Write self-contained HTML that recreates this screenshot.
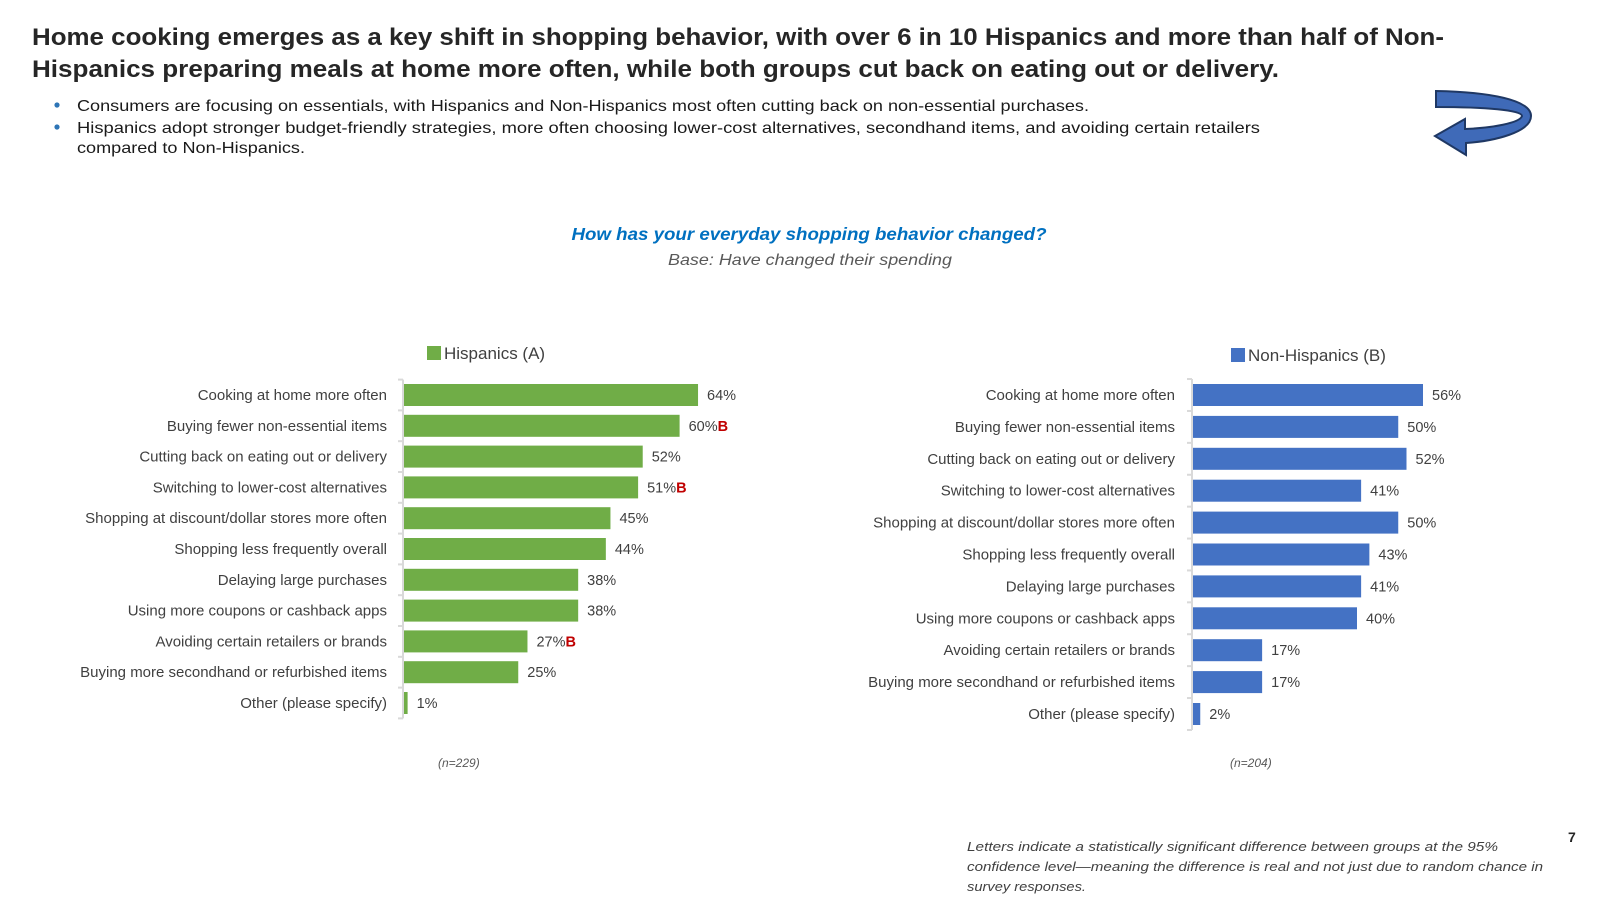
<!DOCTYPE html>
<html><head><meta charset="utf-8"><style>
html,body{margin:0;padding:0;background:#fff;}
svg{display:block;font-family:"Liberation Sans",sans-serif;}
</style></head><body>
<svg id="page" width="1600" height="900" viewBox="0 0 1600 900" xmlns="http://www.w3.org/2000/svg">
<g font-weight="bold" font-size="24" fill="#262626">
<text x="32" y="45" textLength="1412" lengthAdjust="spacingAndGlyphs">Home cooking emerges as a key shift in shopping behavior, with over 6 in 10 Hispanics and more than half of Non-</text>
<text x="32" y="77" textLength="1247" lengthAdjust="spacingAndGlyphs">Hispanics preparing meals at home more often, while both groups cut back on eating out or delivery.</text>
</g>
<g font-size="16" fill="#1a1a1a">
<circle cx="57" cy="105" r="2.6" fill="#2e75b6"/>
<text x="77" y="111" textLength="1012" lengthAdjust="spacingAndGlyphs">Consumers are focusing on essentials, with Hispanics and Non-Hispanics most often cutting back on non-essential purchases.</text>
<circle cx="57" cy="127" r="2.6" fill="#2e75b6"/>
<text x="77" y="133" textLength="1183" lengthAdjust="spacingAndGlyphs">Hispanics adopt stronger budget-friendly strategies, more often choosing lower-cost alternatives, secondhand items, and avoiding certain retailers</text>
<text x="77" y="153" textLength="228" lengthAdjust="spacingAndGlyphs">compared to Non-Hispanics.</text>
</g>
<g>
<path d="M1436,91 C1490,92 1531,100 1531,116 C1531,132 1495,141 1466,143 L1466,155 L1435,136 L1465,119 L1465,129 C1492,128 1520,123 1522,116 C1522,110 1485,107 1436,107 Z" fill="#3f6ab8" stroke="#1f3864" stroke-width="2"/>
</g>
<text x="809" y="240" text-anchor="middle" font-size="17.5" font-weight="bold" font-style="italic" fill="#0070c0" textLength="475" lengthAdjust="spacingAndGlyphs">How has your everyday shopping behavior changed?</text>
<text x="810" y="265" text-anchor="middle" font-size="16" font-style="italic" fill="#595959" textLength="284" lengthAdjust="spacingAndGlyphs">Base: Have changed their spending</text>
<g id="chartA"></g>
<g id="chartB"></g>
<text x="438" y="767" font-size="12" font-style="italic" fill="#595959">(n=229)</text>
<text x="1230" y="767" font-size="12" font-style="italic" fill="#595959">(n=204)</text>
<g font-size="13" font-style="italic" fill="#404040">
<text x="967" y="851" textLength="531" lengthAdjust="spacingAndGlyphs">Letters indicate a statistically significant difference between groups at the 95%</text>
<text x="967" y="871" textLength="576" lengthAdjust="spacingAndGlyphs">confidence level—meaning the difference is real and not just due to random chance in</text>
<text x="967" y="891" textLength="119" lengthAdjust="spacingAndGlyphs">survey responses.</text>
</g>
<text x="1568" y="842" font-size="14" font-weight="bold" fill="#262626">7</text>
</svg>
<script>
const categories = ["Cooking at home more often","Buying fewer non-essential items","Cutting back on eating out or delivery","Switching to lower-cost alternatives","Shopping at discount/dollar stores more often","Shopping less frequently overall","Delaying large purchases","Using more coupons or cashback apps","Avoiding certain retailers or brands","Buying more secondhand or refurbished items","Other (please specify)"];
const categoriesB = ["Cooking at home more often","Buying fewer non-essential items","Cutting back on eating out or delivery","Switching to lower-cost alternatives","Shopping at discount/dollar stores more often","Shopping less frequently overall","Delaying large purchases","Using more coupons or cashback apps","Avoiding certain retailers or brands","Buying more secondhand or refurbished items","Other (please specify)"];
const hispanicsValues = [64,60,52,51,45,44,38,38,27,25,1];
const hispanicsSig = ["","B","","B","","","","","B","",""];
const nonHispanicsValues = [56,50,52,41,50,43,41,40,17,17,2];
const nonHispanicsSig = ["","","","","","","","","","",""];
const NS="http://www.w3.org/2000/svg";
function mk(tag, attrs, parent){const e=document.createElementNS(NS,tag);for(const k in attrs)e.setAttribute(k,attrs[k]);parent.appendChild(e);return e;}
function drawChart(g, cats, vals, sig, cfg){
  const x = v => cfg.x0 + v*cfg.pxPer;
  const yc = i => cfg.y0 + i*cfg.pitch;
  const sq = mk('rect',{x:cfg.legX,y:cfg.legY-7,width:14,height:14,fill:cfg.color},g);
  
  
  const lt = mk('text',{x:cfg.legX+17,y:cfg.legY+6,'font-size':17,fill:'#404040'},g);
  lt.textContent = cfg.legend;
  
  
  const top = yc(0)-cfg.pitch/2, bot = yc(cats.length-1)+cfg.pitch/2;
  const ax = mk('line',{x1:cfg.x0,x2:cfg.x0,y1:top,y2:bot,stroke:'#d9d9d9','stroke-width':2},g);
  
  
  for(let i=0;i<=cats.length;i++){
    mk('line',{x1:cfg.x0-5,x2:cfg.x0,y1:top+i*cfg.pitch,y2:top+i*cfg.pitch,stroke:'#d9d9d9','stroke-width':2},g);
  }
  cats.forEach((c,i)=>{
    const lab = mk('text',{x:cfg.labelX,y:yc(i)+5,'text-anchor':'end','font-size':15,fill:'#404040'},g);
    lab.textContent = c;
    
    
    const b = mk('rect',{x:cfg.x0+1,y:yc(i)-11,width:Math.max(0,x(vals[i])-cfg.x0-1),height:22,fill:cfg.color},g);
    
    
    const t = mk('text',{x:x(vals[i])+9,y:yc(i)+5,'font-size':14.5,fill:'#404040'},g);
    t.textContent = vals[i]+'%';
    
    
    if(sig[i]){
      const s = mk('tspan',{fill:'#c00000','font-weight':'bold'},t);
      s.textContent = sig[i];
    }
  });
}
drawChart(document.getElementById('chartA'), categories, hispanicsValues, hispanicsSig,
  {x0:403,pxPer:4.61,y0:395,pitch:30.8,labelX:387,color:'#70ad47',legX:427,legY:353,legend:'Hispanics (A)'});
drawChart(document.getElementById('chartB'), categoriesB, nonHispanicsValues, nonHispanicsSig,
  {x0:1192,pxPer:4.125,y0:395,pitch:31.9,labelX:1175,color:'#4472c4',legX:1231,legY:355,legend:'Non-Hispanics (B)'});
</script>
</body></html>
